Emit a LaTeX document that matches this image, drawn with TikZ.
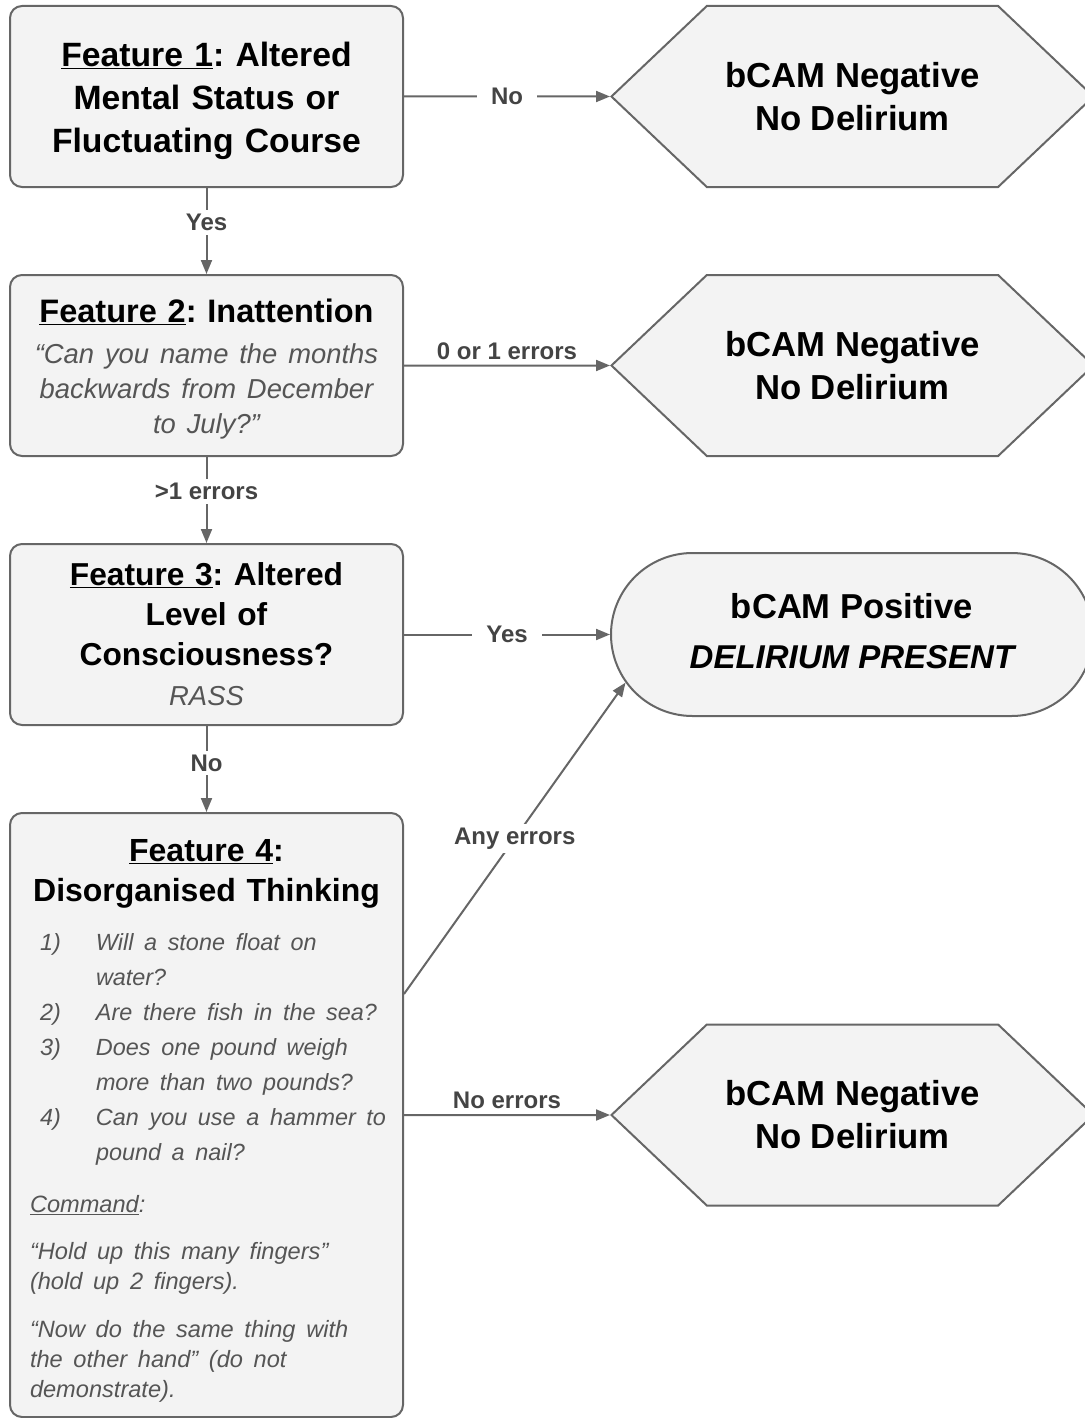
\documentclass[tikz,border=0pt]{standalone}
\usepackage{fontspec}
\setmainfont{Liberation Sans}
\usetikzlibrary{positioning,shapes.symbols,shapes.misc,arrows.meta}

\definecolor{linegray}{HTML}{666666}
\definecolor{boxfill}{HTML}{F3F3F3}
\definecolor{askgray}{HTML}{555555}
\definecolor{labelgray}{HTML}{444444}

\frenchspacing
\newcommand{\askfont}{\fontsize{27.4}{35}\fontseries{m}\itshape\selectfont\color{askgray}}
\newcommand{\itemfont}{\fontsize{23.4}{35}\fontseries{m}\itshape\selectfont\color{askgray}}
\newcommand{\cmdfont}{\fontsize{23.6}{30}\fontseries{m}\itshape\selectfont\color{askgray}}
\newcommand{\lift}[1]{\rule{0pt}{#1}}

\tikzset{every picture/.style={line width=2pt}}
\tikzset{
  featbox/.style={draw=linegray, fill=boxfill, rounded corners=12pt, minimum width=393pt, minimum height=181pt, text width=373pt, align=center, inner sep=0pt, font=\fontsize{32.5}{43}\selectfont\bfseries},
  negbox/.style={draw=linegray, fill=boxfill, signal, signal to=west and east, signal pointer angle=87, minimum width=482pt, minimum height=181pt, align=center, inner sep=0pt, font=\fontsize{34.7}{43}\selectfont\bfseries},
  posbox/.style={draw=linegray, fill=boxfill, rounded rectangle, minimum width=482pt, minimum height=163pt, align=center, inner sep=0pt, font=\fontsize{34.6}{50}\selectfont\bfseries},
  flow/.style={draw=linegray, -{Triangle[length=14pt,width=11pt]}},
  onlabel/.style={fill=white, text=labelgray, font=\fontsize{24}{28}\selectfont\bfseries, inner xsep=14pt, inner ysep=4pt},
  overlabel/.style={above, text=labelgray, font=\fontsize{24}{28}\selectfont\bfseries, inner sep=5pt},
}

\begin{document}
\begin{tikzpicture}[x=1pt,y=-1pt]
\useasboundingbox (0,0) rectangle (1084,1418);

% feature boxes
\node[featbox, font=\fontsize{33.7}{43}\selectfont\bfseries] (f1) at (206.5,96.5) {\lift{34pt}\underline{Feature 1}: Altered\\Mental Status or\\Fluctuating Course};
\node[featbox, below=86pt of f1] (f2) {\lift{30pt}\underline{Feature 2}: Inattention\\[6pt]\askfont “Can you name the months\\backwards from December\\to July?”\par};
\node[featbox, below=86pt of f2, font=\fontsize{31.7}{40}\selectfont\bfseries] (f3) {\underline{Feature 3}: Altered\\Level of\\Consciousness?\\\askfont RASS};
\node[featbox, below=86pt of f3, minimum height=604pt, font=\fontsize{32}{40}\selectfont\bfseries] (f4) {\lift{34pt}\underline{Feature 4}:\\Disorganised Thinking\\[17pt]
\begin{minipage}{353pt}\raggedright\itemfont
\begin{tabular}{@{\hspace{10pt}}p{40pt}@{\hspace{16pt}}l@{}}
1) & Will a stone float on\\
   & water?\\
2) & Are there fish in the sea?\\
3) & Does one pound weigh\\
   & more than two pounds?\\
4) & Can you use a hammer to\\
   & pound a nail?\\
\end{tabular}\par\vspace{23pt}
\cmdfont\underline{Command}:\par\vspace{17pt}
“Hold up this many fingers”\\(hold up 2 fingers).\par\vspace{18pt}
“Now do the same thing with\\the other hand” (do not\\demonstrate).\par
\end{minipage}};

% outcomes
\node[negbox, right=206pt of f1] (n1) {bCAM Negative\\No Delirium};
\node[negbox, right=206pt of f2] (n2) {bCAM Negative\\No Delirium};
\node[posbox, right=206pt of f3] (p3) {bCAM Positive\\\fontsize{33}{50}\selectfont\itshape DELIRIUM PRESENT\rule[-8pt]{0pt}{1pt}};
\node[negbox, right=206pt of f4] (n4) {bCAM Negative\\No Delirium};

% connectors
\coordinate (f4any) at ([yshift=121pt]f4.east);
\draw[flow] (f1) -- node[onlabel]{No} (n1);
\draw[flow] (f1) -- node[onlabel, pos=0.4]{Yes} (f2);
\draw[flow] (f2) -- node[overlabel]{0 or 1 errors} (n2);
\draw[flow] (f2) -- node[onlabel, pos=0.4]{>1 errors} (f3);
\draw[flow] (f3) -- node[onlabel]{Yes} (p3);
\draw[flow] (f3) -- node[onlabel, pos=0.43]{No} (f4);
\draw[flow] (f4any) -- node[onlabel, inner xsep=3pt]{Any errors} (p3.192);
\draw[flow] (f4) -- node[overlabel]{No errors} (n4);

\end{tikzpicture}
\end{document}
